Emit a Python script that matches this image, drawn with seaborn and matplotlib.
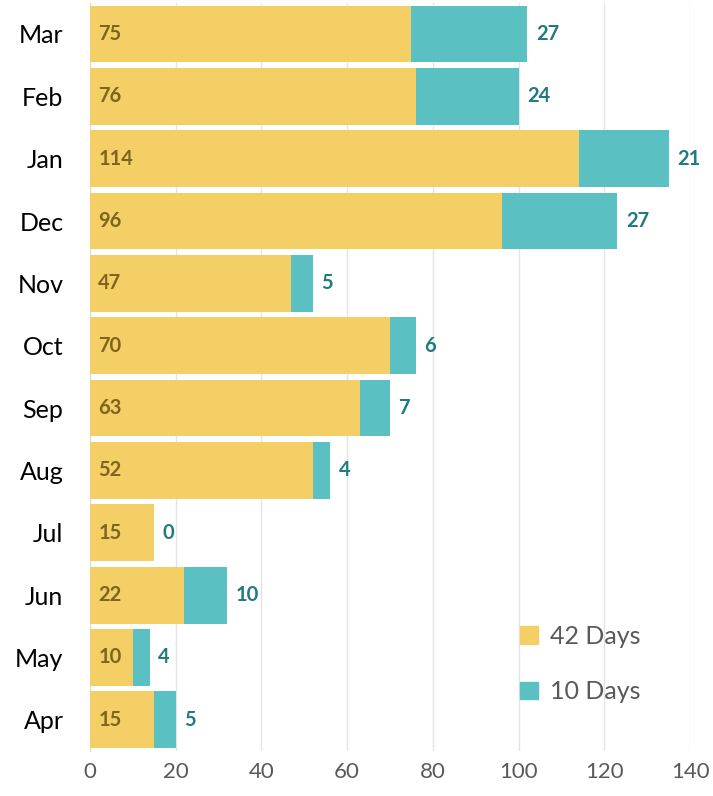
import matplotlib
matplotlib.use("Agg")
import matplotlib.pyplot as plt
import seaborn as sns
import pandas as pd
from matplotlib.patches import Patch

months = ["Mar", "Feb", "Jan", "Dec", "Nov", "Oct", "Sep", "Aug", "Jul", "Jun", "May", "Apr"]
days42 = [75, 76, 114, 96, 47, 70, 63, 52, 15, 22, 10, 15]
days10 = [27, 24, 21, 27, 5, 6, 7, 4, 0, 10, 4, 5]

yellow = "#F3CF65"
teal = "#5BC0C1"

sns.set_style("white")
plt.rcParams["font.family"] = ["Lato", "DejaVu Sans"]

df = pd.DataFrame({"month": months, "d42": days42, "d10": days10})
df["total"] = df["d42"] + df["d10"]

fig = plt.figure(figsize=(7.13, 7.96), dpi=100)
ax = fig.add_axes([0.126, 0.0565, 0.842, 0.94])

# stacked look: total in teal, 42 days on top
sns.barplot(data=df, y="month", x="total", color=teal, orient="h", width=0.91,
            saturation=1, linewidth=0, ax=ax, zorder=2)
sns.barplot(data=df, y="month", x="d42", color=yellow, orient="h", width=0.91,
            saturation=1, linewidth=0, ax=ax, zorder=3)

for i, row in df.iterrows():
    ax.text(2.0, i, str(row["d42"]), va="center", ha="left", fontsize=14.5,
            fontweight="bold", color="#7F6420", zorder=4)
    ax.text(row["total"] + 2.0, i, str(row["d10"]), va="center", ha="left",
            fontsize=14.5, fontweight="bold", color="#1F7B80", zorder=4)

ax.set_xlim(0, 140)
ax.set_xticks(range(0, 141, 20))
ax.xaxis.grid(True, color="#E4E4E4", linewidth=1, zorder=0)
ax.set_axisbelow(True)
ax.set_xlabel("")
ax.set_ylabel("")
for s in ["top", "right", "bottom"]:
    ax.spines[s].set_visible(False)
ax.spines["left"].set_color("#D9D9D9")
ax.tick_params(axis="x", labelsize=16, colors="#595959", length=0, pad=8)
ax.tick_params(axis="y", labelsize=18, labelcolor="black", length=0, pad=19)

handles = [Patch(color=yellow, label="42 Days"), Patch(color=teal, label="10 Days")]
leg = ax.legend(handles=handles, loc="lower right", bbox_to_anchor=(0.955, 0.034),
                frameon=False, fontsize=18, handlelength=0.7, handleheight=0.7,
                handletextpad=0.5, labelspacing=1.3)
for t in leg.get_texts():
    t.set_color("#595959")

fig.savefig("out.png", dpi=100)
